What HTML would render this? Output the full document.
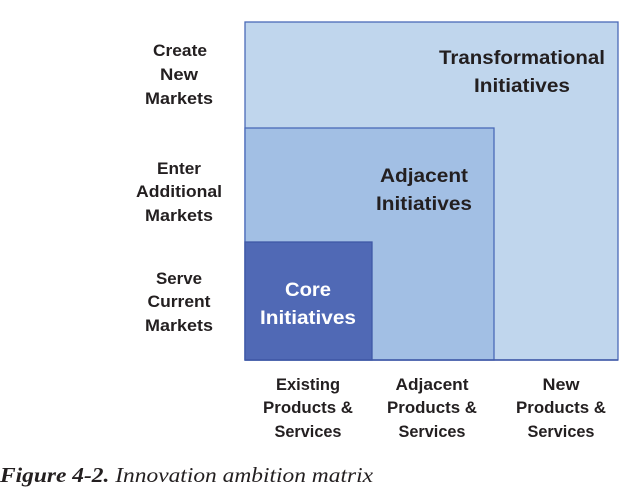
<!DOCTYPE html>
<html><head><style>
html,body{margin:0;padding:0;background:#fff;}
svg{display:block;}
.l{font-family:"Liberation Sans",sans-serif;font-weight:bold;font-size:16.5px;fill:#231f20;text-anchor:middle;}
.b{font-family:"Liberation Sans",sans-serif;font-weight:bold;font-size:19px;fill:#231f20;text-anchor:middle;}
.c{font-family:"Liberation Serif",serif;font-style:italic;font-size:21px;fill:#231f20;}
</style></head><body>
<svg width="638" height="488" viewBox="0 0 638 488" xmlns="http://www.w3.org/2000/svg">
<rect x="245" y="22" width="373" height="338" fill="#c0d6ed" stroke="#4a6ab8" stroke-width="1.3"/>
<rect x="245" y="128" width="249" height="232" fill="#a2bfe4" stroke="#4a6ab8" stroke-width="1.3"/>
<rect x="245" y="242" width="127" height="118" fill="#5069b5" stroke="#3f58a6" stroke-width="1.3"/>
<line x1="245" y1="360" x2="618" y2="360" stroke="#3f58a6" stroke-width="1.5"/>

<text class="b" x="522" y="64" textLength="166" lengthAdjust="spacingAndGlyphs">Transformational</text>
<text class="b" x="522" y="92" textLength="96" lengthAdjust="spacingAndGlyphs">Initiatives</text>
<text class="b" x="424" y="182" textLength="88" lengthAdjust="spacingAndGlyphs">Adjacent</text>
<text class="b" x="424" y="210" textLength="96" lengthAdjust="spacingAndGlyphs">Initiatives</text>
<text class="b" x="308" y="296" style="fill:#fff" textLength="46" lengthAdjust="spacingAndGlyphs">Core</text>
<text class="b" x="308" y="324" style="fill:#fff" textLength="96" lengthAdjust="spacingAndGlyphs">Initiatives</text>

<text class="l" x="180" y="56" textLength="54" lengthAdjust="spacingAndGlyphs">Create</text>
<text class="l" x="179" y="80" textLength="38" lengthAdjust="spacingAndGlyphs">New</text>
<text class="l" x="179" y="104" textLength="68" lengthAdjust="spacingAndGlyphs">Markets</text>
<text class="l" x="179" y="174" textLength="44" lengthAdjust="spacingAndGlyphs">Enter</text>
<text class="l" x="179" y="197" textLength="86" lengthAdjust="spacingAndGlyphs">Additional</text>
<text class="l" x="179" y="221" textLength="68" lengthAdjust="spacingAndGlyphs">Markets</text>
<text class="l" x="179" y="284" textLength="46" lengthAdjust="spacingAndGlyphs">Serve</text>
<text class="l" x="179" y="307" textLength="63" lengthAdjust="spacingAndGlyphs">Current</text>
<text class="l" x="179" y="331" textLength="68" lengthAdjust="spacingAndGlyphs">Markets</text>

<text class="l" x="308" y="390" textLength="64" lengthAdjust="spacingAndGlyphs">Existing</text>
<text class="l" x="308" y="413" textLength="90" lengthAdjust="spacingAndGlyphs">Products &amp;</text>
<text class="l" x="308" y="437" textLength="67" lengthAdjust="spacingAndGlyphs">Services</text>
<text class="l" x="432" y="390" textLength="73" lengthAdjust="spacingAndGlyphs">Adjacent</text>
<text class="l" x="432" y="413" textLength="90" lengthAdjust="spacingAndGlyphs">Products &amp;</text>
<text class="l" x="432" y="437" textLength="67" lengthAdjust="spacingAndGlyphs">Services</text>
<text class="l" x="561" y="390" textLength="37" lengthAdjust="spacingAndGlyphs">New</text>
<text class="l" x="561" y="413" textLength="90" lengthAdjust="spacingAndGlyphs">Products &amp;</text>
<text class="l" x="561" y="437" textLength="67" lengthAdjust="spacingAndGlyphs">Services</text>

<text class="c" x="0" y="482" textLength="373" lengthAdjust="spacingAndGlyphs"><tspan font-weight="bold">Figure 4-2.</tspan>  Innovation ambition matrix</text>
</svg>
</body></html>
